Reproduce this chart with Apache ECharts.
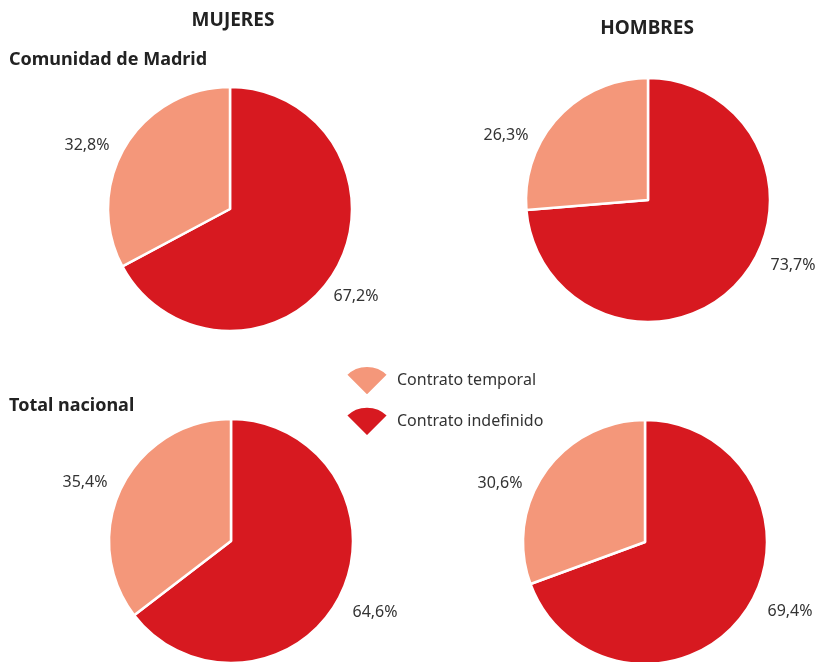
<!DOCTYPE html>
<html>
<head>
<meta charset="utf-8">
<script src="https://cdn.jsdelivr.net/npm/echarts@6/dist/echarts.min.js"></script>
<style>
  html, body { margin: 0; padding: 0; background: #fff; }
  #chart { width: 825px; height: 662px; }
</style>
</head>
<body>
<div id="chart"></div>
<script>
// categories in drawing order (clockwise from 12 o'clock)
const categories = ['Contrato indefinido', 'Contrato temporal']
const legendOrder = ['Contrato temporal', 'Contrato indefinido']
const colors = ['#d71920', '#f4977a']

const mujeresMadrid = [67.2, 32.8]
const hombresMadrid = [73.7, 26.3]
const mujeresNacional = [64.6, 35.4]
const hombresNacional = [69.4, 30.6]

const font = '"Noto Sans", "Open Sans", sans-serif'

// labelOffset: [indefinido dx, dy, temporal dx, dy] relative to pie centre
function makePie(name, values, center, labelOffset) {
  return {
    name: name,
    type: 'pie',
    radius: 122,
    center: center,
    startAngle: 90,
    clockwise: true,
    silent: true,
    itemStyle: { borderColor: '#fff', borderWidth: 2.5 },
    label: {
      show: true,
      position: 'outside',
      color: '#333',
      fontSize: 16,
      fontFamily: font,
      overflow: 'none',
      formatter: p => p.value.toFixed(1).replace('.', ',') + '%'
    },
    labelLine: { show: false },
    labelLayout: function(params) {
      const k = params.dataIndex * 2
      return {
        x: center[0] + labelOffset[k],
        y: center[1] + labelOffset[k + 1],
        align: 'center',
        verticalAlign: 'middle'
      }
    },
    data: categories.map((c, i) => ({ name: c, value: values[i] }))
  }
}

const titleStyle = { fontSize: 19, fontWeight: 'bold', color: '#222', fontFamily: font }
const rowStyle = { fontSize: 18, fontWeight: 'bold', color: '#222', fontFamily: font }

const chart = echarts.init(document.getElementById('chart'))
chart.setOption({
  animation: false,
  color: colors,
  title: [
    { text: 'MUJERES', left: 228, top: 6, textAlign: 'center', textStyle: titleStyle },
    { text: 'HOMBRES', left: 642, top: 14, textAlign: 'center', textStyle: titleStyle },
    { text: 'Comunidad de Madrid', left: 4, top: 46, textStyle: rowStyle },
    { text: 'Total nacional', left: 4, top: 392, textStyle: rowStyle }
  ],
  legend: {
    data: legendOrder,
    orient: 'vertical',
    left: 340,
    top: 360,
    itemWidth: 42,
    itemHeight: 30,
    itemGap: 9,
    icon: 'path://M7.07,10 L0,2.93 A10,10 0 0 1 14.14,2.93 Z',
    textStyle: { fontSize: 16, color: '#333', fontFamily: font, padding: [0, 0, 0, 4] },
    selectedMode: false
  },
  series: [
    makePie('Mujeres Madrid', mujeresMadrid, [230, 209], [126, 87, -143, -64]),
    makePie('Hombres Madrid', hombresMadrid, [648, 200], [145, 65, -142, -65]),
    makePie('Mujeres Nacional', mujeresNacional, [231, 541], [144, 71, -146, -59]),
    makePie('Hombres Nacional', hombresNacional, [645, 542], [145, 69, -145, -59])
  ]
})
</script>
</body>
</html>
